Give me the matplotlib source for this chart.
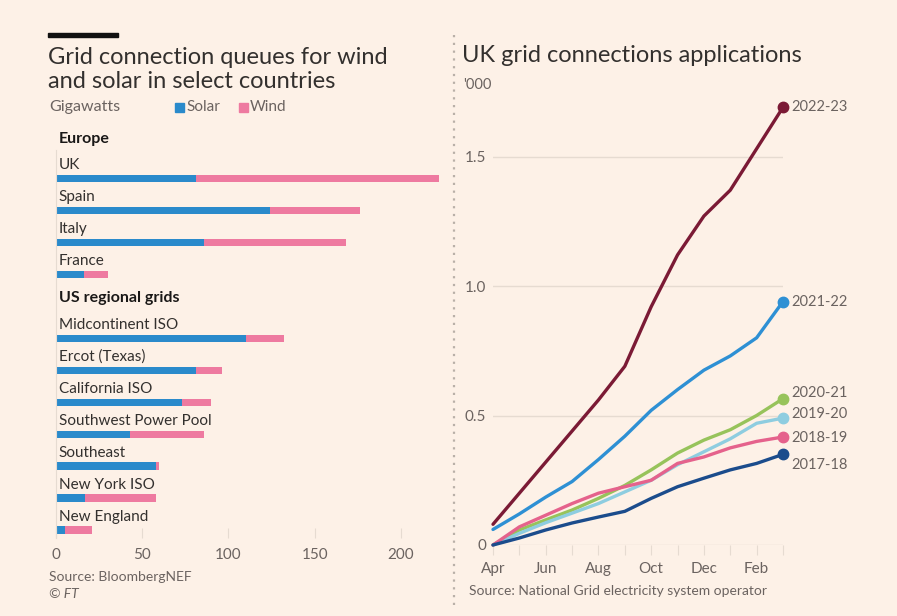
import matplotlib
matplotlib.use("Agg")
import matplotlib.pyplot as plt
from matplotlib.lines import Line2D
from matplotlib.patches import Rectangle

# ----- data -----
regions = ['UK', 'Spain', 'Italy', 'France',
           'Midcontinent ISO', 'Ercot (Texas)', 'California ISO',
           'Southwest Power Pool', 'Southeast', 'New York ISO', 'New England']
solar = [81, 124, 86, 16, 110, 81, 73, 43, 58, 17, 5]
wind = [141, 52, 82, 14, 22, 15, 17, 43, 2, 41, 16]
rows = [0, 1, 2, 3, 5, 6, 7, 8, 9, 10, 11]
groups = ['Europe', 'US regional grids']
group_rows = [-1.25, 3.75]
bar_ticks = [0, 50, 100, 150, 200]

months = ['Apr', 'May', 'Jun', 'Jul', 'Aug', 'Sep',
          'Oct', 'Nov', 'Dec', 'Jan', 'Feb', 'Mar']
years = ['2022-23', '2021-22', '2020-21', '2019-20', '2018-19', '2017-18']
apps = {
    '2022-23': [0.08, 0.20, 0.32, 0.44, 0.56, 0.69, 0.92, 1.12, 1.27, 1.37, 1.53, 1.69],
    '2021-22': [0.06, 0.12, 0.185, 0.245, 0.33, 0.42, 0.52, 0.60, 0.675, 0.73, 0.80, 0.94],
    '2020-21': [0.0, 0.058, 0.097, 0.135, 0.18, 0.23, 0.29, 0.355, 0.405, 0.445, 0.50, 0.565],
    '2019-20': [0.0, 0.045, 0.086, 0.123, 0.16, 0.205, 0.25, 0.31, 0.36, 0.41, 0.47, 0.49],
    '2018-19': [0.0, 0.07, 0.115, 0.16, 0.20, 0.225, 0.25, 0.315, 0.34, 0.375, 0.40, 0.417],
    '2017-18': [0.0, 0.027, 0.058, 0.085, 0.108, 0.13, 0.18, 0.225, 0.258, 0.29, 0.315, 0.35],
}
label_y = [1.69, 0.94, 0.585, 0.505, 0.415, 0.31]
line_ticks = [0, 0.5, 1.0, 1.5]
line_tick_labels = ['0', '0.5', '1.0', '1.5']

# ----- style -----
bg = '#fdf1e7'
ink = '#33302e'
grey = '#6b6360'
faint = '#e6dbd1'
c_solar = '#2a8acb'
c_wind = '#ee7aa0'
colours = {'2022-23': '#7b1a35', '2021-22': '#2e90d4', '2020-21': '#97c35b',
           '2019-20': '#8ecde0', '2018-19': '#e5628c', '2017-18': '#1b4c8c'}

plt.rcParams['font.family'] = ['Lato', 'DejaVu Sans']

W, H = 897, 616
fig = plt.figure(figsize=(W / 100, H / 100), dpi=100, facecolor=bg)


def fx(x):
    return x / W


def fy(y):
    return 1 - y / H


# ----- left: stacked bars -----
ax1 = fig.add_axes([fx(56), fy(538), fx(388), (538 - 150) / H])
ax1.set_facecolor(bg)
ax1.barh(rows, solar, height=0.23, color=c_solar)
ax1.barh(rows, wind, left=solar, height=0.23, color=c_wind)
ax1.set_xlim(0, 225)
ax1.set_ylim(11.25, -0.9)
for r, name in zip(rows, regions):
    ax1.text(1.6, r - 0.42, name, fontsize=11, color=ink, va='center')
for r, g in zip(group_rows, groups):
    ax1.text(1.6, r, g, fontsize=11.5, color='#1a1817', fontweight='bold', va='center')
for s in ['top', 'right', 'bottom']:
    ax1.spines[s].set_visible(False)
ax1.spines['left'].set_color(faint)
ax1.set_yticks([])
ax1.set_xticks(bar_ticks)
ax1.tick_params(axis='x', direction='in', length=7, color=faint, labelsize=11,
                labelcolor=grey, pad=7)

# ----- right: lines -----
ax2 = fig.add_axes([fx(493), fy(545), fx(290), 1.75 * 259 / H])
ax2.set_facecolor(bg)
x = list(range(len(months)))
for yr in years:
    ax2.plot(x, apps[yr], color=colours[yr], lw=2.4, clip_on=False, solid_capstyle='round')
    ax2.plot(x[-1], apps[yr][-1], 'o', color=colours[yr], ms=7.5, clip_on=False)
for yr, ly in zip(years, label_y):
    ax2.text(11.3, ly, yr, fontsize=10.5, color=grey, va='center')
ax2.set_xlim(0, 11)
ax2.set_ylim(0, 1.75)
ax2.set_yticks(line_ticks)
ax2.set_yticklabels(line_tick_labels)
ax2.set_xticks(x)
ax2.set_xticklabels([m if i % 2 == 0 else '' for i, m in enumerate(months)])
ax2.tick_params(axis='y', length=0, labelsize=11, labelcolor=grey, pad=5)
ax2.tick_params(axis='x', direction='out', length=7, color=faint, labelsize=11,
                labelcolor=grey, pad=5)
ax2.grid(axis='y', color=faint, lw=1)
ax2.set_axisbelow(True)
for s in ['top', 'right', 'left', 'bottom']:
    ax2.spines[s].set_visible(False)

# ----- titles and notes -----
fig.add_artist(Rectangle((fx(48), fy(37)), fx(70), 4 / H, color='#111111',
                         transform=fig.transFigure))
fig.text(fx(48), fy(57), 'Grid connection queues for wind', fontsize=17, color=ink, va='center')
fig.text(fx(48), fy(82), 'and solar in select countries', fontsize=17, color=ink, va='center')
fig.text(fx(49), fy(107), 'Gigawatts', fontsize=11.5, color=grey, va='center')
fig.add_artist(Rectangle((fx(175), fy(112)), fx(9), 9 / H, color=c_solar,
                         transform=fig.transFigure))
fig.text(fx(186), fy(107), 'Solar', fontsize=11, color=grey, va='center')
fig.add_artist(Rectangle((fx(239), fy(112)), fx(9), 9 / H, color=c_wind,
                         transform=fig.transFigure))
fig.text(fx(250), fy(107), 'Wind', fontsize=11, color=grey, va='center')
fig.text(fx(49), fy(577), 'Source: BloombergNEF', fontsize=10, color=grey, va='center')
fig.text(fx(49), fy(594), '© FT', fontsize=10, color=grey, va='center', style='italic')

fig.text(fx(462), fy(55), 'UK grid connections applications', fontsize=17, color=ink, va='center')
fig.text(fx(463), fy(85), "'000", fontsize=10.5, color=grey, va='center')
fig.text(fx(469), fy(591), 'Source: National Grid electricity system operator',
         fontsize=10, color=grey, va='center')

fig.add_artist(Line2D([fx(454), fx(454)], [fy(35), fy(605)], color='#b9b0a8',
                      lw=1.6, ls=(0, (1, 2.5)), transform=fig.transFigure))

fig.savefig('out.png', dpi=100, facecolor=bg)
